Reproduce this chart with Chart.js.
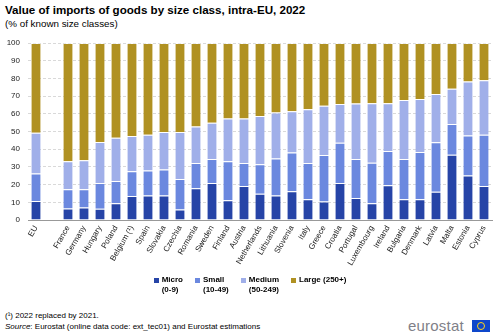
<!DOCTYPE html>
<html><head><meta charset="utf-8">
<script src="https://cdn.jsdelivr.net/npm/chart.js@4/dist/chart.umd.min.js"></script>
<style>
html,body{margin:0;padding:0;background:#fff;}
body{width:500px;height:334px;position:relative;overflow:hidden;font-family:"Liberation Sans",Arial,sans-serif;}
#title{position:absolute;left:5px;top:3px;font-size:11.6px;font-weight:bold;color:#000;white-space:nowrap;}
#sub{position:absolute;left:5px;top:18px;font-size:9.8px;color:#000;white-space:nowrap;}
#wrap{position:absolute;left:0;top:0;width:500px;height:276px;}
#legend{position:absolute;top:275px;left:0;width:500px;display:flex;justify-content:center;font-size:8px;font-weight:bold;color:#000;}
.li{display:flex;align-items:flex-start;margin:0 6px;}
.sw{width:5px;height:5px;margin:3px 3px 0 0;}
.lt{line-height:10px;}
#foot1{position:absolute;left:5px;top:311px;font-size:8px;color:#000;white-space:nowrap;}
#foot2{position:absolute;left:5px;top:322px;font-size:8px;color:#000;white-space:nowrap;}
#logo{position:absolute;left:408px;top:317px;font-size:15px;color:#7f8088;white-space:nowrap;letter-spacing:0.2px;}
#flag{position:absolute;left:472px;top:320px;width:18px;height:12px;background:#0e47cb;}
#flag div{position:absolute;left:5px;top:2px;width:6px;height:6px;border:1px solid #ffd617;border-radius:50%;}
</style></head>
<body>
<div id="title">Value of imports of goods by size class, intra-EU, 2022</div>
<div id="sub">(% of known size classes)</div>
<div id="wrap"><canvas id="c" width="500" height="276"></canvas></div>
<div id="legend"></div>
<div id="foot1">(¹) 2022 replaced by 2021.</div>
<div id="foot2"><i>Source</i>: Eurostat (online data code: ext_tec01) and Eurostat estimations</div>
<div id="logo">eurostat</div>
<div id="flag"><div></div></div>
<script>
const categories = ["EU","","France","Germany","Hungary","Poland","Belgium (¹)","Spain","Slovakia","Czechia","Romania","Sweden","Finland","Austria","Netherlands","Lithuania","Slovenia","Italy","Greece","Croatia","Portugal","Luxembourg","Ireland","Bulgaria","Denmark","Latvia","Malta","Estonia","Cyprus"];
const micro  = [10.8,null,6.5,7.0,6.3,9.4,13.6,13.8,13.8,5.9,18.0,20.9,11.1,19.2,14.8,13.8,16.3,11.7,10.5,20.9,12.5,9.4,19.6,11.7,11.7,15.9,36.8,25.2,19.2];
const small  = [15.5,null,10.9,10.4,14.6,12.7,14.0,14.2,14.8,17.3,14.2,13.6,22.1,13.0,16.7,20.9,21.9,20.5,26.2,22.7,21.9,23.0,19.4,22.8,26.7,28.0,17.5,22.6,29.0];
const medium = [23.0,null,15.8,16.4,23.2,24.3,19.8,20.2,21.1,26.5,20.6,20.4,24.2,25.2,27.2,26.1,23.2,30.4,27.8,21.9,31.4,33.6,27.0,33.3,29.9,27.3,19.8,30.5,30.8];
const large  = [50.7,null,66.8,66.2,55.9,53.6,52.6,51.8,50.3,50.3,47.2,45.1,42.6,42.6,41.3,39.2,38.6,37.4,35.5,34.5,34.2,34.0,34.0,32.2,31.7,28.8,25.9,21.7,21.0];
const seriesNames = [["Micro","(0-9)"],["Small","(10-49)"],["Medium","(50-249)"],["Large (250+)"]];
const yTicks = [0,10,20,30,40,50,60,70,80,90,100];

const colors = ["#2644a7","#6b88df","#a0afe9","#b09122"];
const seriesData = [micro, small, medium, large];

const datasets = seriesData.map((d,i)=>({
  label: seriesNames[i].join(" "),
  data: d,
  backgroundColor: colors[i],
  borderColor: "rgba(255,255,255,0.45)",
  borderWidth: {top:1, right:0, bottom:0, left:0},
  borderSkipped: false,
  barPercentage: 0.58,
  categoryPercentage: 1.0
}));

const leg = document.getElementById('legend');
seriesNames.forEach((n,i)=>{
  const li = document.createElement('div'); li.className='li';
  const sw = document.createElement('div'); sw.className='sw'; sw.style.background=colors[i];
  const t = document.createElement('div'); t.className='lt'; t.innerHTML = n.join('<br>');
  li.appendChild(sw); li.appendChild(t); leg.appendChild(li);
});

new Chart(document.getElementById('c'), {
  type: 'bar',
  data: { labels: categories, datasets },
  options: {
    responsive: false,
    animation: false,
    layout: { padding: { top: 43, right: 8, left: 0, bottom: 0 } },
    plugins: { legend: { display: false }, tooltip: { enabled: false } },
    scales: {
      x: {
        stacked: true,
        grid: { display: false, drawTicks: true, tickLength: 4 },
        border: { display: true, color: '#999', width: 1 },
        ticks: { minRotation: 60, maxRotation: 60, autoSkip: false, padding: 0,
                 font: { family: 'Liberation Sans', size: 8 }, color: '#222' },
        afterFit: s => { s.height = 56; }
      },
      y: {
        stacked: true, min: 0, max: 100,
        afterBuildTicks: s => { s.ticks = yTicks.map(v=>({value:v})); },
        grid: { color: '#d9d9d9', drawTicks: false, tickLength: 0 },
        border: { display: false, dash: [3,2] },
        ticks: { padding: 8, font: { family: 'Liberation Sans', size: 8 }, color: '#222' },
        afterFit: s => { s.width = 28; }
      }
    }
  }
});
</script>
</body></html>
